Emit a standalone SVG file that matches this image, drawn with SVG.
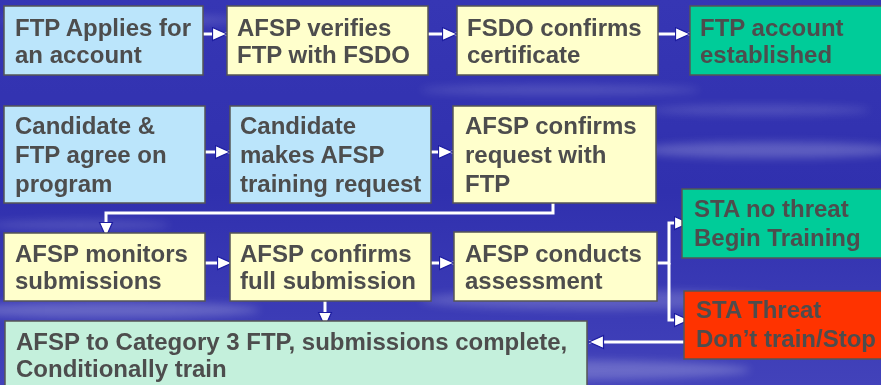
<svg xmlns="http://www.w3.org/2000/svg" width="881" height="385" viewBox="0 0 881 385">
<defs>
<linearGradient id="bg" x1="0" y1="0" x2="0" y2="1">
<stop offset="0" stop-color="#3636b4"/>
<stop offset="0.5" stop-color="#3030ae"/>
<stop offset="1" stop-color="#4242ba"/>
</linearGradient>
<filter id="blur" x="-50%" y="-50%" width="200%" height="200%"><feGaussianBlur stdDeviation="4"/></filter>
<marker id="ah" markerUnits="userSpaceOnUse" markerWidth="18" markerHeight="16" refX="15.5" refY="7.5" orient="auto" viewBox="0 0 18 16">
<path d="M1,1 L15.5,7.5 L1,14 Z" fill="#ffffff" stroke="#1c1ca0" stroke-width="1.2"/>
</marker>
<style>
.box{stroke:#555555;stroke-width:1.5}
.blue{fill:#bbe5fb}
.yel{fill:#ffffcc}
.grn{fill:#00cc99}
.red{fill:#ff3300}
.mint{fill:#c4f0dc}
text{font-family:"Liberation Sans",Arial,sans-serif;font-weight:bold;font-size:24px;fill:#4d4d4d}
.con{fill:none;stroke:#ffffff;stroke-width:3}
</style>
</defs>
<rect x="0" y="0" width="881" height="385" fill="url(#bg)"/>
<g filter="url(#blur)" fill="#ffffff">
<ellipse cx="120" cy="20" rx="120" ry="6" opacity="0.15"/>
<ellipse cx="560" cy="90" rx="140" ry="5" opacity="0.15"/>
<ellipse cx="770" cy="150" rx="130" ry="8" opacity="0.22"/>
<ellipse cx="760" cy="110" rx="110" ry="5" opacity="0.15"/>
<ellipse cx="600" cy="300" rx="180" ry="10" opacity="0.18"/>
<ellipse cx="110" cy="310" rx="150" ry="8" opacity="0.22"/>
<ellipse cx="550" cy="370" rx="200" ry="10" opacity="0.22"/>
<ellipse cx="80" cy="225" rx="90" ry="5" opacity="0.15"/>
<ellipse cx="820" cy="20" rx="80" ry="6" opacity="0.15"/>
</g>
<g id="connectors">
<path class="con" d="M203,34 H227" marker-end="url(#ah)"/>
<path class="con" d="M428,34 H457" marker-end="url(#ah)"/>
<path class="con" d="M658,34 H690" marker-end="url(#ah)"/>
<path class="con" d="M205,152 H230" marker-end="url(#ah)"/>
<path class="con" d="M431,152 H453" marker-end="url(#ah)"/>
<path class="con" d="M553,203 V213 H106 V237" marker-end="url(#ah)"/>
<path class="con" d="M175,263 H232" marker-end="url(#ah)"/>
<path class="con" d="M395,263 H454" marker-end="url(#ah)"/>
<path class="con" d="M325,301 V327" marker-end="url(#ah)"/>
<path class="con" d="M657,263 H669 V223 H689" marker-end="url(#ah)"/>
<path class="con" d="M669,263 V320 H689" marker-end="url(#ah)"/>
<path class="con" d="M684,342 H589" marker-end="url(#ah)"/>
</g>
<g id="n1"><rect class="box blue" x="4" y="6" width="199" height="69"/><text x="15" y="36">FTP Applies for</text><text x="15" y="63">an account</text></g>
<g id="n2"><rect class="box yel" x="227" y="6" width="201" height="69"/><text x="237" y="36">AFSP verifies</text><text x="237" y="63">FTP with FSDO</text></g>
<g id="n3"><rect class="box yel" x="457" y="6" width="201" height="69"/><text x="467" y="36">FSDO confirms</text><text x="467" y="63">certificate</text></g>
<g id="n4"><rect class="box grn" x="690" y="6" width="200" height="69"/><text x="700" y="36">FTP account</text><text x="700" y="63">established</text></g>
<g id="n5"><rect class="box blue" x="4" y="106" width="201" height="97"/><text x="15" y="134">Candidate &amp;</text><text x="15" y="163">FTP agree on</text><text x="15" y="192">program</text></g>
<g id="n6"><rect class="box blue" x="230" y="106" width="201" height="97"/><text x="240" y="134">Candidate</text><text x="240" y="163">makes AFSP</text><text x="240" y="192">training request</text></g>
<g id="n7"><rect class="box yel" x="453" y="106" width="203" height="97"/><text x="465" y="134">AFSP confirms</text><text x="465" y="163">request with</text><text x="465" y="192">FTP</text></g>
<g id="n8"><rect class="box yel" x="4" y="233" width="201" height="68"/><text x="15" y="262">AFSP monitors</text><text x="15" y="289">submissions</text></g>
<g id="n9"><rect class="box yel" x="230" y="233" width="201" height="68"/><text x="240" y="262">AFSP confirms</text><text x="240" y="289">full submission</text></g>
<g id="n10"><rect class="box yel" x="454" y="232" width="203" height="69"/><text x="465" y="262">AFSP conducts</text><text x="465" y="289">assessment</text></g>
<g id="n11"><rect class="box grn" x="682" y="189" width="210" height="69"/><text x="694" y="217">STA no threat</text><text x="694" y="246">Begin Training</text></g>
<g id="n12"><rect class="box red" x="684" y="291" width="210" height="68"/><text x="696" y="318">STA Threat</text><text x="696" y="347">Don’t train/Stop</text></g>
<g id="n13"><rect class="box mint" x="5" y="321" width="582" height="75"/><text x="16" y="350">AFSP to Category 3 FTP, submissions complete,</text><text x="16" y="377">Conditionally train</text></g>
</svg>
